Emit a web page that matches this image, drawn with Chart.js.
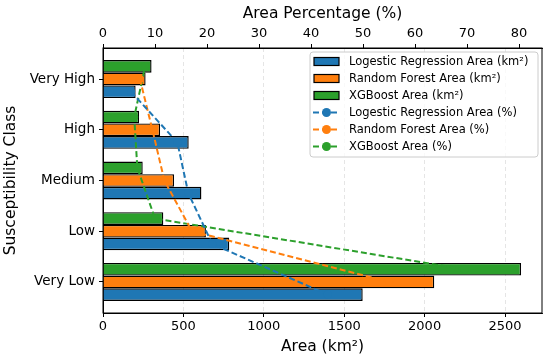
<!DOCTYPE html>
<html>
<head>
<meta charset="utf-8">
<script src="https://cdn.jsdelivr.net/npm/chart.js@4"></script>
<style>
  body { margin: 0; background: #fff; }
  canvas { display: block; }
</style>
</head>
<body>
<canvas id="areaChart" width="550" height="359"></canvas>
<script>
const categories = ['Very Low', 'Low', 'Medium', 'High', 'Very High'];

// area in km2
const lrArea = [1615, 785, 612, 533, 203];
const rfArea = [2060, 640, 442, 355, 265];
const xgbArea = [2600, 375, 247, 224, 302];

// area percentage
const lrPct = [43.2, 21.0, 16.4, 14.3, 5.4];
const rfPct = [55.0, 17.1, 11.8, 9.5, 7.1];
const xgbPct = [69.5, 10.0, 6.6, 6.0, 8.1];

const areaTicks = [0, 500, 1000, 1500, 2000, 2500];
const pctTicks = [0, 10, 20, 30, 40, 50, 60, 70, 80];

const BLUE = '#1f77b4', ORANGE = '#ff7f0e', GREEN = '#2ca02c';
const FONT = 'DejaVu Sans';

const legendItems = [
  { kind: 'bar', color: BLUE, text: 'Logestic Regression Area (km²)' },
  { kind: 'bar', color: ORANGE, text: 'Random Forest Area (km²)' },
  { kind: 'bar', color: GREEN, text: 'XGBoost Area (km²)' },
  { kind: 'line', color: BLUE, text: 'Logestic Regression Area (%)' },
  { kind: 'line', color: ORANGE, text: 'Random Forest Area (%)' },
  { kind: 'line', color: GREEN, text: 'XGBoost Area (%)' }
];

function barSet(label, values, color) {
  return {
    type: 'bar', label: label, order: 1,
    data: values.map((v, i) => ({ x: v, y: i })),
    backgroundColor: color, borderColor: '#000', borderWidth: 1.4,
    categoryPercentage: 0.75, barPercentage: 1.0,
    xAxisID: 'x', yAxisID: 'y'
  };
}
function lineSet(label, values, color, shift) {
  return {
    type: 'line', label: label, order: 0,
    data: values.map((v, i) => ({ x: v, y: i + shift })),
    borderColor: color, backgroundColor: color, borderWidth: 2,
    borderDash: [6, 3], pointRadius: 4, pointBorderWidth: 0,
    pointBackgroundColor: color, fill: false, tension: 0,
    xAxisID: 'x2', yAxisID: 'y'
  };
}

// frame + legend, drawn like matplotlib
const frameAndLegend = {
  id: 'frameAndLegend',
  afterDraw(chart) {
    const ctx = chart.ctx;
    const a = chart.chartArea;
    ctx.save();
    ctx.strokeStyle = '#000';
    ctx.lineWidth = 1;
    ctx.strokeRect(a.left, a.top, a.right - a.left, a.bottom - a.top);

    const bx = 310, by = 52, bw = 228, bh = 105;
    ctx.beginPath();
    ctx.roundRect(bx, by, bw, bh, 3);
    ctx.fillStyle = 'rgba(255,255,255,0.8)';
    ctx.fill();
    ctx.strokeStyle = '#cccccc';
    ctx.stroke();

    ctx.font = '11.5px "' + FONT + '"';
    ctx.textBaseline = 'middle';
    legendItems.forEach((it, i) => {
      const y = 61.5 + i * 17;
      if (it.kind === 'bar') {
        ctx.fillStyle = it.color;
        ctx.fillRect(314, y - 4, 25, 8);
        ctx.strokeStyle = '#000';
        ctx.lineWidth = 1.2;
        ctx.strokeRect(314, y - 4, 25, 8);
      } else {
        ctx.strokeStyle = it.color;
        ctx.lineWidth = 2;
        ctx.setLineDash([6, 3]);
        ctx.beginPath();
        ctx.moveTo(313, y);
        ctx.lineTo(340, y);
        ctx.stroke();
        ctx.setLineDash([]);
        ctx.fillStyle = it.color;
        ctx.beginPath();
        ctx.arc(326.5, y, 4.5, 0, Math.PI * 2);
        ctx.fill();
      }
      ctx.fillStyle = '#000';
      ctx.fillText(it.text, 349, y + 0.5);
    });
    ctx.restore();
  }
};

new Chart(document.getElementById('areaChart'), {
  data: {
    datasets: [
      barSet('XGBoost Area (km²)', xgbArea, GREEN),
      barSet('Random Forest Area (km²)', rfArea, ORANGE),
      barSet('Logestic Regression Area (km²)', lrArea, BLUE),
      lineSet('Logestic Regression Area (%)', lrPct, BLUE, -0.25),
      lineSet('Random Forest Area (%)', rfPct, ORANGE, 0),
      lineSet('XGBoost Area (%)', xgbPct, GREEN, 0.25)
    ]
  },
  options: {
    indexAxis: 'y',
    responsive: false,
    animation: false,
    layout: { padding: { left: 0, right: 8, top: 0, bottom: 0 } },
    plugins: {
      legend: { display: false },
      tooltip: { enabled: false }
    },
    scales: {
      x: {
        type: 'linear', position: 'bottom', min: 0, max: 2730,
        afterBuildTicks: s => { s.ticks = areaTicks.map(v => ({ value: v })); },
        afterFit: s => { s.height = 46; },
        ticks: { color: '#000', font: { family: FONT, size: 13 }, padding: 2, maxRotation: 0,
                 callback: v => String(v) },
        grid: {
          color: c => (c.tick && c.tick.value === 0) ? 'rgba(0,0,0,0)' : '#dedede',
          lineWidth: 0.8, drawTicks: true, tickLength: 4, tickColor: '#000', tickWidth: 1
        },
        border: { color: '#000', width: 1, dash: [4, 3] },
        title: { display: true, text: 'Area (km²)', color: '#000',
                 font: { family: FONT, size: 15.5 }, padding: { top: 0, bottom: 3 } }
      },
      x2: {
        type: 'linear', position: 'top', min: 0, max: 84.4,
        afterBuildTicks: s => { s.ticks = pctTicks.map(v => ({ value: v })); },
        afterFit: s => { s.height = 48; },
        ticks: { color: '#000', font: { family: FONT, size: 13 }, padding: 3, maxRotation: 0,
                 callback: v => String(v) },
        grid: { drawOnChartArea: false, drawTicks: true, tickLength: 4, tickColor: '#000' },
        border: { color: '#000', width: 1 },
        title: { display: true, text: 'Area Percentage (%)', color: '#000',
                 font: { family: FONT, size: 15.5 }, padding: { top: 5, bottom: 0 } }
      },
      y: {
        type: 'linear', position: 'left', min: -0.6125, max: 4.6125, offset: false,
        afterBuildTicks: s => { s.ticks = categories.map((c, i) => ({ value: i })); },
        afterFit: s => { s.width = 103; },
        ticks: {
          color: '#000', font: { family: FONT, size: 13.5 }, padding: 4, autoSkip: false,
          callback: v => categories[v]
        },
        grid: { offset: false, drawOnChartArea: false, drawTicks: true, tickLength: 4, tickColor: '#000' },
        border: { color: '#000', width: 1 },
        title: { display: true, text: 'Susceptibility Class', color: '#000',
                 font: { family: FONT, size: 15.5 }, padding: { top: 2, bottom: 0 } }
      }
    }
  },
  plugins: [frameAndLegend]
});
</script>
</body>
</html>
